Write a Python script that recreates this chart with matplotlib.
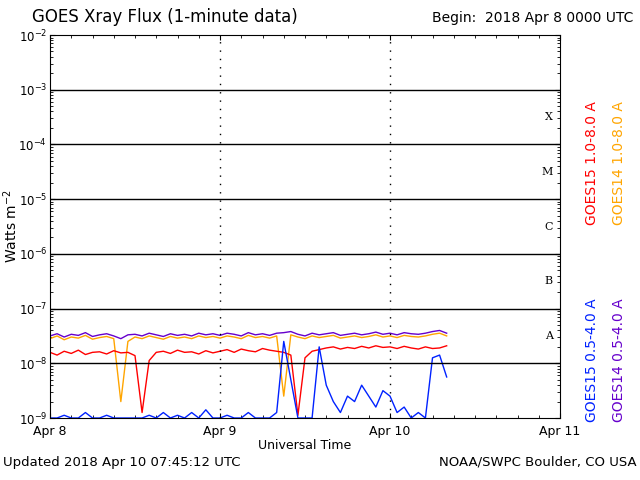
import matplotlib
matplotlib.use("Agg")
import matplotlib.pyplot as plt
import numpy as np

# hours since 2018 Apr 8 00:00 UTC ; values are log10(flux W/m^2)
hours = list(range(0, 57))
goes15_long = [-7.80, -7.85, -7.78, -7.82, -7.76, -7.84, -7.80, -7.79, -7.83, -7.77, -7.81, -7.80,
               -7.86, -8.9, -7.95, -7.80, -7.78, -7.82, -7.76, -7.80, -7.79, -7.83, -7.77, -7.81,
               -7.78, -7.75, -7.80, -7.74, -7.77, -7.79, -7.73, -7.76, -7.78, -7.80, -7.85, -8.95,
               -7.90, -7.78, -7.75, -7.72, -7.70, -7.74, -7.71, -7.73, -7.69, -7.72, -7.68, -7.71,
               -7.70, -7.73, -7.69, -7.72, -7.74, -7.70, -7.73, -7.72, -7.68]
goes14_long = [-7.55, -7.50, -7.57, -7.52, -7.54, -7.49, -7.56, -7.53, -7.51, -7.55, -8.7, -7.60,
               -7.52, -7.55, -7.50, -7.53, -7.56, -7.51, -7.54, -7.52, -7.55, -7.50, -7.53, -7.51,
               -7.54, -7.50, -7.52, -7.55, -7.49, -7.53, -7.51, -7.54, -7.50, -8.6, -7.48, -7.52,
               -7.55, -7.50, -7.53, -7.51, -7.49, -7.54, -7.52, -7.50, -7.53, -7.51, -7.48, -7.52,
               -7.50, -7.53, -7.49, -7.51, -7.52, -7.50, -7.47, -7.45, -7.50]
goes14_short = [-7.50, -7.46, -7.52, -7.47, -7.49, -7.44, -7.51, -7.48, -7.46, -7.50, -7.55, -7.48,
                -7.47, -7.50, -7.45, -7.48, -7.51, -7.46, -7.49, -7.47, -7.50, -7.45, -7.48, -7.46,
                -7.49, -7.45, -7.47, -7.50, -7.44, -7.48, -7.46, -7.49, -7.45, -7.44, -7.42, -7.47,
                -7.50, -7.45, -7.48, -7.46, -7.44, -7.49, -7.47, -7.45, -7.48, -7.46, -7.43, -7.47,
                -7.45, -7.48, -7.44, -7.46, -7.47, -7.45, -7.42, -7.40, -7.45]
goes15_short = [-9.0, -9.0, -8.95, -9.0, -9.0, -8.9, -9.0, -9.0, -8.95, -9.0, -9.0, -9.0,
                -9.0, -9.0, -8.95, -9.0, -8.9, -9.0, -8.95, -9.0, -8.9, -9.0, -8.85, -9.0,
                -9.0, -8.95, -9.0, -9.0, -8.9, -9.0, -9.0, -9.0, -8.9, -7.6, -8.3, -9.0,
                -9.0, -9.0, -7.7, -8.4, -8.7, -8.9, -8.6, -8.7, -8.4, -8.6, -8.8, -8.5,
                -8.6, -8.9, -8.8, -9.0, -8.9, -9.0, -7.9, -7.85, -8.25]

x_ticks = [0, 24, 48, 72]
x_labels = ["Apr 8", "Apr 9", "Apr 10", "Apr 11"]
class_labels = ["A", "B", "C", "M", "X"]

fig = plt.figure(figsize=(6.4, 4.8), dpi=100)
ax = fig.add_axes([50 / 640, 1 - 418 / 480, 510 / 640, 383 / 480])

ax.plot(hours, 10 ** np.array(goes14_short), color="#6600cc", lw=1)
ax.plot(hours, 10 ** np.array(goes14_long), color="#ffa500", lw=1)
ax.plot(hours, 10 ** np.array(goes15_long), color="red", lw=1)
ax.plot(hours, 10 ** np.array(goes15_short), color="#0022ff", lw=1)

ax.set_yscale("log")
ax.set_ylim(1e-9, 1e-2)
ax.set_xlim(0, 72)
for e in range(-8, -2):
    ax.axhline(10.0 ** e, color="black", lw=1)
for h in (24, 48):
    ax.axvline(h, color="black", lw=1, ls=(0, (1, 5)), dash_capstyle="butt")
for i, lab in enumerate(class_labels):
    ax.text(71, 10 ** (-7.5 + i), lab, ha="right", va="center", fontsize=8, family="DejaVu Serif")

ax.set_xticks(x_ticks)
ax.set_xticklabels(x_labels, fontsize=9)
ax.set_xticks(range(0, 73, 3), minor=True)
ax.tick_params(which="both", direction="in", top=True, right=True)
ax.tick_params(axis="x", pad=5)
ax.tick_params(axis="y", labelsize=8.5, pad=2)
ax.set_xlabel("Universal Time", fontsize=9, labelpad=1)
ax.set_ylabel("Watts m$^{-2}$", fontsize=10)
ax.yaxis.set_label_coords(-0.058, 0.5)

fig.text(0.05, 0.955, "GOES Xray Flux (1-minute data)", fontsize=12)
fig.text(0.99, 0.955, "Begin:  2018 Apr 8 0000 UTC", fontsize=10, ha="right")
fig.text(0.005, 0.03, "Updated 2018 Apr 10 07:45:12 UTC", fontsize=9.5)
fig.text(0.995, 0.03, "NOAA/SWPC Boulder, CO USA", fontsize=9.5, ha="right")

fig.text(0.925, 0.66, "GOES15 1.0-8.0 A", color="red", rotation=90, fontsize=10, ha="center", va="center")
fig.text(0.967, 0.66, "GOES14 1.0-8.0 A", color="#ffa500", rotation=90, fontsize=10, ha="center", va="center")
fig.text(0.925, 0.25, "GOES15 0.5-4.0 A", color="#0022ff", rotation=90, fontsize=10, ha="center", va="center")
fig.text(0.967, 0.25, "GOES14 0.5-4.0 A", color="#6600cc", rotation=90, fontsize=10, ha="center", va="center")

fig.savefig("out.png", dpi=100)
